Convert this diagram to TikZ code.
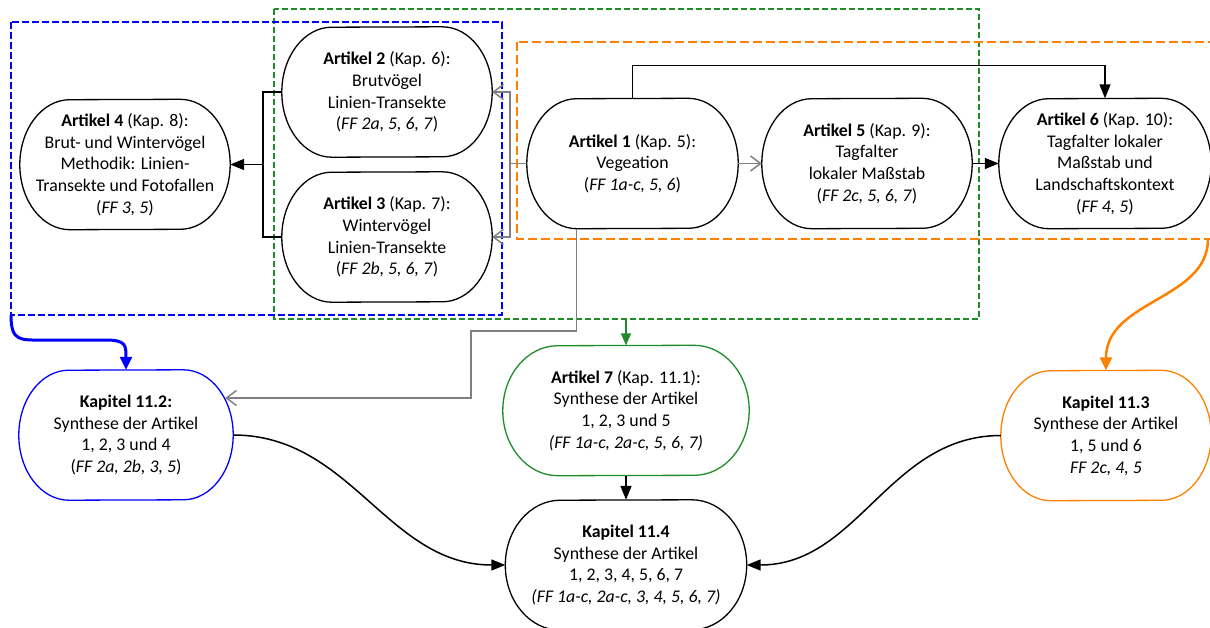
\documentclass[tikz,border=0pt]{standalone}
\usepackage{fontspec}
\setmainfont{Carlito}
\usetikzlibrary{arrows.meta}
\definecolor{grpblue}{RGB}{0,0,255}
\definecolor{grpgreen}{RGB}{30,140,40}
\definecolor{grporange}{RGB}{255,128,0}
\definecolor{linkgray}{RGB}{128,128,128}
\newcommand\pillborder[3][black]{%
  \draw[#1, line width=1.3pt] ([xshift=-#3]#2.north east) arc[start angle=90, end angle=-90, x radius=#3, y radius=65pt]
    -- ([xshift=#3]#2.south west) arc[start angle=270, end angle=90, x radius=#3, y radius=65pt] -- cycle;}

\begin{document}
\begin{tikzpicture}[x=1pt,y=-1pt,
    box/.style={minimum height=130pt, inner sep=4pt, align=center, font=\fontsize{17.8}{21.7}\selectfont},
    blackarr/.style={-{Triangle[length=14pt,width=11pt]}, line width=1.5pt},
    grayarr/.style={-{Straight Barb[length=10pt,width=15pt]}, linkgray, line width=1.5pt},
    ]
    \useasboundingbox (0,0) rectangle (1210,627);

    \draw[grpgreen, line width=1.8pt, dash pattern=on 6pt off 3pt] (274,9) rectangle (979,319);
    \draw[grpblue, line width=2.2pt, dash pattern=on 7pt off 3pt] (11,22) rectangle (502,315);
    \draw[grporange, line width=2pt, dash pattern=on 9pt off 4pt] (517,42) rectangle (1216,239);
    \coordinate (blueSW) at (11,315);
    \coordinate (greenS) at (626,319);
    \coordinate (orangeSE) at (1208,239);

    \node[box, minimum width=210pt] (art4) at (125,164.5) {\textbf{Artikel 4} (Kap. 8):\\Brut- und Wintervögel\\Methodik: Linien-\\Transekte und Fotofallen\\(\textit{FF 3, 5})};
    \node[box, minimum width=210pt] (art2) at (387,92) {\textbf{Artikel 2} (Kap. 6):\\Brutvögel\\Linien-Transekte\\(\textit{FF 2a, 5, 6, 7})};
    \node[box, minimum width=210pt] (art3) at (387,237) {\textbf{Artikel 3} (Kap. 7):\\Wintervögel\\Linien-Transekte\\(\textit{FF 2b, 5, 6, 7})};
    \node[box, minimum width=211pt] (art1) at (632.5,163.5) {\textbf{Artikel 1} (Kap. 5):\\Vegeation\\(\textit{FF 1a-c, 5, 6})};
    \node[box, minimum width=210pt] (art5) at (867,163.5) {\textbf{Artikel 5} (Kap. 9):\\Tagfalter\\lokaler Maßstab\\(\textit{FF 2c, 5, 6, 7})};
    \node[box, minimum width=212pt] (art6) at (1105,163.5) {\textbf{Artikel 6} (Kap. 10):\\Tagfalter lokaler\\Maßstab und\\Landschaftskontext\\(\textit{FF 4, 5})};

    \node[box, minimum width=214pt] (kap112) at (126,435) {\textbf{Kapitel 11.2:}\\Synthese der Artikel\\1, 2, 3 und 4\\(\textit{FF 2a, 2b, 3, 5})};
    \node[box, minimum width=246pt] (art7) at (626,410.5) {\textbf{Artikel 7} (Kap. 11.1):\\Synthese der Artikel\\1, 2, 3 und 5\\\textit{(FF 1a-c, 2a-c, 5, 6, 7)}};
    \node[box, minimum width=210pt] (kap113) at (1106,435.5) {\textbf{Kapitel 11.3}\\Synthese der Artikel\\1, 5 und 6\\\textit{FF 2c, 4, 5}};
    \node[box, minimum width=241pt] (kap114) at (626,565) {\textbf{Kapitel 11.4}\\Synthese der Artikel\\1, 2, 3, 4, 5, 6, 7\\\textit{(FF 1a-c, 2a-c, 3, 4, 5, 6, 7)}};

    \pillborder{art4}{50pt} \pillborder{art2}{50pt} \pillborder{art3}{50pt}
    \pillborder{art1}{50pt} \pillborder{art5}{50pt} \pillborder{art6}{50pt}
    \pillborder[grpblue]{kap112}{50pt} \pillborder[grpgreen]{art7}{55pt}
    \pillborder[grporange]{kap113}{50pt} \pillborder{kap114}{55pt}

    \coordinate (brk) at (263,164.5);
    \draw[line width=1.5pt] (art2.west) -| (brk) |- (art3.west);
    \draw[blackarr] (brk) -- (art4.east);

    \coordinate (gbrk) at (510,163.5);
    \draw[linkgray, line width=1.5pt] (art1.west) -- (gbrk);
    \draw[grayarr] (gbrk) |- (art2.east);
    \draw[grayarr] (gbrk) |- (art3.east);
    \draw[grayarr] (art1) -- (art5);
    \draw[blackarr] (art5) -- (art6);
    \draw[blackarr] (art1.north) -- ++(0,-33) -| (art6.north);
    \draw[grayarr] ([xshift=-56pt]art1.south) |- (471,331) |- ([xshift=-8pt,yshift=37pt]kap112.east);

    \draw[grpgreen, -{Triangle[length=12pt,width=10pt]}, line width=1.5pt] (greenS) -- (art7.north);
    \draw[blackarr] (art7) -- (kap114);
    \draw[grpblue, line width=3pt, -{Triangle[length=13pt,width=12pt]}] (blueSW) .. controls (11,342) and (20,340) .. (45,340) -- (105,340) .. controls (126,340) and (126,345) .. (kap112.north);
    \draw[grporange, line width=2.5pt, -{Triangle[length=13pt,width=12pt]}] (orangeSE) .. controls (1208,300) and (1106,300) .. (kap113.north);
    \draw[blackarr] (kap112.east) to[out=0,in=180] (kap114.west);
    \draw[blackarr] (kap113.west) to[out=180,in=0] (kap114.east);
  \end{tikzpicture}
\end{document}
